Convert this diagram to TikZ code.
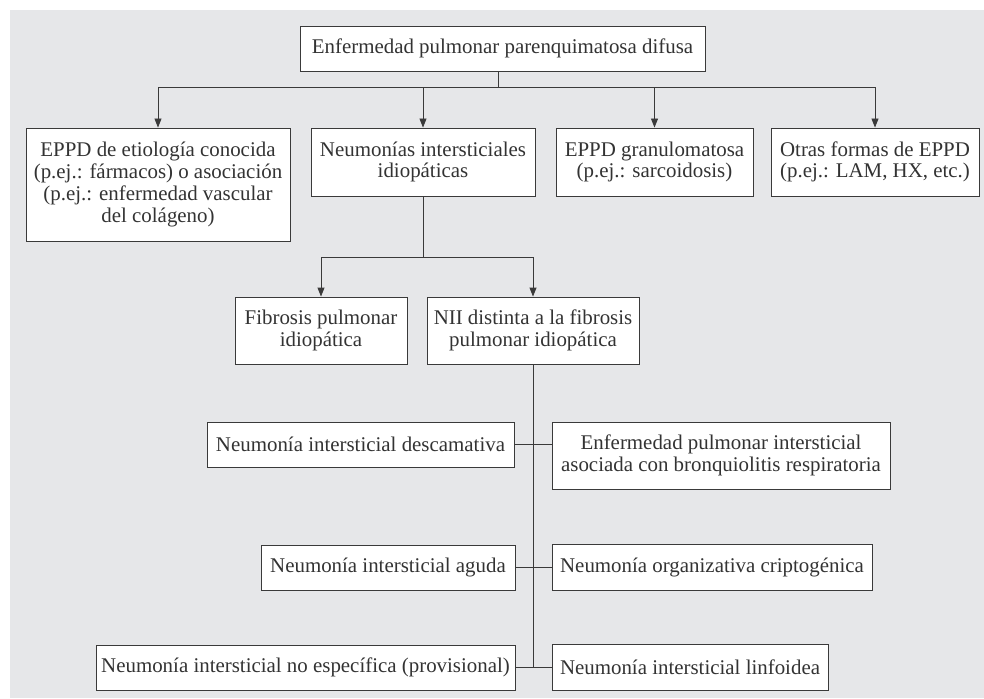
\documentclass[tikz,border=0pt]{standalone}
\usepackage{fontspec}
\setmainfont{Liberation Serif}
\usetikzlibrary{arrows.meta}
\definecolor{bgc}{HTML}{E6E7E9}
\definecolor{linec}{HTML}{3A3A3A}
\definecolor{txtc}{HTML}{333333}
\tikzset{
  box/.style={draw=linec, fill=white, line width=0.9pt, inner sep=0pt, align=center,
    text=txtc, font=\fontsize{20.9}{21.7}\selectfont},
  conn/.style={draw=linec, line width=0.9pt},
  arr/.style={conn, -{Triangle[length=9pt,width=7pt]}}
}
\begin{document}
\begin{tikzpicture}[x=1pt,y=-1pt]
\useasboundingbox (0,0) rectangle (984,698);
\fill[bgc] (10,10) rectangle (984,698);

\node[box, minimum width=405pt, minimum height=45pt] (top) at (502.5,48.5) {Enfermedad pulmonar parenquimatosa difusa};

\node[box, minimum width=264pt, minimum height=113pt] (b1) at (158,184.5) {EPPD de etiología conocida\\(p.ej.: fármacos) o asociación\\(p.ej.: enfermedad vascular\\del colágeno)};
\node[box, minimum width=224pt, minimum height=68pt] (b2) at (423,162) {Neumonías intersticiales\\idiopáticas};
\node[box, minimum width=197pt, minimum height=68pt] (b3) at (654.5,162) {EPPD granulomatosa\\(p.ej.: sarcoidosis)};
\node[box, minimum width=208pt, minimum height=68pt] (b4) at (875,162) {Otras formas de EPPD\\(p.ej.: LAM, HX, etc.)};

\node[box, minimum width=172pt, minimum height=67pt] (fib) at (321,330.5) {Fibrosis pulmonar\\idiopática};
\node[box, minimum width=212pt, minimum height=67pt] (nii) at (533,330.5) {NII distinta a la fibrosis\\pulmonar idiopática};

\node[box, minimum width=307pt, minimum height=45pt] (d1) at (360.5,444.5) {Neumonía intersticial descamativa};
\node[box, minimum width=338pt, minimum height=67pt] (e1) at (721,455.5) {Enfermedad pulmonar intersticial\\asociada con bronquiolitis respiratoria};
\node[box, minimum width=254pt, minimum height=45pt] (d2) at (388,567.5) {Neumonía intersticial aguda};
\node[box, minimum width=320pt, minimum height=46pt] (e2) at (712,567) {Neumonía organizativa criptogénica};
\node[box, minimum width=419pt, minimum height=45pt] (d3) at (305.5,667.5) {Neumonía intersticial no específica (provisional)};
\node[box, minimum width=276pt, minimum height=46pt] (e3) at (690,667) {Neumonía intersticial linfoidea};

\coordinate (j1) at (498,87);
\draw[conn] (top.south -| j1) -- (j1);
\draw[arr] (j1) -| (b1.north);
\draw[arr] (j1) -| (b2.north);
\draw[arr] (j1) -| (b3.north);
\draw[arr] (j1) -| (b4.north);

\coordinate (j2) at (423,257);
\draw[conn] (b2.south) -- (j2);
\draw[arr] (j2) -| (fib.north);
\draw[arr] (j2) -| (nii.north);

\coordinate (j3) at (533,667.5);
\draw[conn] (nii.south) -- (j3);
\draw[conn] (d1.east) -- (d1.east -| e1.west);
\draw[conn] (d2.east) -- (d2.east -| e2.west);
\draw[conn] (d3.east) -- (d3.east -| e3.west);
\end{tikzpicture}
\end{document}
